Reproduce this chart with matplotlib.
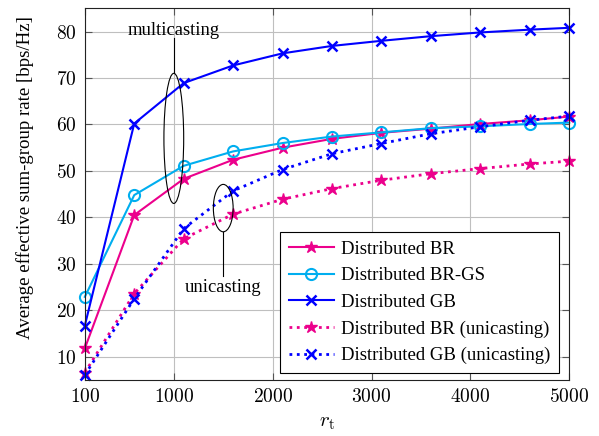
import matplotlib
matplotlib.use("Agg")
import matplotlib.pyplot as plt
from matplotlib.patches import Ellipse

plt.rcParams['font.family'] = ['Liberation Serif', 'DejaVu Serif']
plt.rcParams['mathtext.fontset'] = 'cm'

r_t = [100, 600, 1100, 1600, 2100, 2600, 3100, 3600, 4100, 4600, 5000]
br = [11.8, 40.5, 48.3, 52.4, 55.0, 56.9, 58.2, 59.1, 60.1, 60.9, 61.7]
br_gs = [22.9, 44.8, 51.1, 54.2, 56.0, 57.4, 58.3, 59.2, 59.6, 60.1, 60.4]
gb = [16.7, 60.2, 68.9, 72.7, 75.3, 76.9, 78.0, 79.0, 79.8, 80.4, 80.8]
br_uni = [6.6, 23.6, 35.4, 40.7, 43.9, 46.2, 48.0, 49.4, 50.5, 51.5, 52.1]
gb_uni = [6.1, 22.5, 37.6, 45.7, 50.3, 53.7, 55.9, 58.0, 59.5, 60.9, 61.8]

xticks = [100, 1000, 2000, 3000, 4000, 5000]
yticks = [10, 20, 30, 40, 50, 60, 70, 80]

magenta = '#ec008c'
cyan = '#00aeef'
blue = '#0000ff'

fig = plt.figure(figsize=(5.99, 4.36), dpi=100)
ax = fig.add_axes([0.1416, 0.1284, 0.8088, 0.8526])

ax.plot(r_t, br, '-*', color=magenta, lw=1.5, ms=9, label='Distributed BR', clip_on=False)
ax.plot(r_t, br_gs, '-o', color=cyan, lw=1.5, ms=8, mfc='none', mew=1.5, label='Distributed BR-GS', clip_on=False)
ax.plot(r_t, gb, '-x', color=blue, lw=1.5, ms=7, mew=1.8, label='Distributed GB', clip_on=False)
ax.plot(r_t, br_uni, ':*', color=magenta, lw=2, ms=9, label='Distributed BR (unicasting)', clip_on=False)
ax.plot(r_t, gb_uni, ':x', color=blue, lw=2, ms=7, mew=1.8, label='Distributed GB (unicasting)', clip_on=False)

# annotations
ax.add_patch(Ellipse((1000, 57.0), 200, 28, fill=False, ec='black', lw=0.8, zorder=5))
ax.plot([1000, 1000], [71.0, 78.6], color='black', lw=0.8)
ax.text(1000, 80.2, 'multicasting', ha='center', va='center', fontsize=13.4)

ax.add_patch(Ellipse((1500, 42.0), 200, 10.2, fill=False, ec='black', lw=0.8, zorder=5))
ax.plot([1500, 1500], [36.9, 27.3], color='black', lw=0.8)
ax.text(1500, 25.0, 'unicasting', ha='center', va='center', fontsize=13.4)

ax.set_xlim(100, 5000)
ax.set_ylim(5, 85)
ax.set_xticks(xticks)
ax.set_xticklabels(['$%d$' % v for v in xticks], fontsize=14)
ax.set_yticks(yticks)
ax.set_yticklabels(['$%d$' % v for v in yticks], fontsize=14)
ax.tick_params(direction='in', length=5, color='#555555', top=True, right=True, pad=6)
ax.grid(True, color='#bfbfbf', lw=0.8)
ax.set_axisbelow(True)
for s in ax.spines.values():
    s.set_color('#222222')

ax.set_xlabel('$r_{\\mathrm{t}}$', fontsize=15, labelpad=5)
ax.set_ylabel('Average effective sum-group rate [bps/Hz]', fontsize=13.6)
ax.yaxis.set_label_coords(-0.105, 0.545)

leg = ax.legend(loc='lower right', fontsize=13.5, fancybox=False, framealpha=1,
                edgecolor='black', handlelength=2.4, borderpad=0.45,
                labelspacing=0.5, handletextpad=0.4, borderaxespad=0,
                bbox_to_anchor=(0.979, 0.0196))
leg.get_frame().set_linewidth(0.8)

fig.savefig('out.png', dpi=100)
